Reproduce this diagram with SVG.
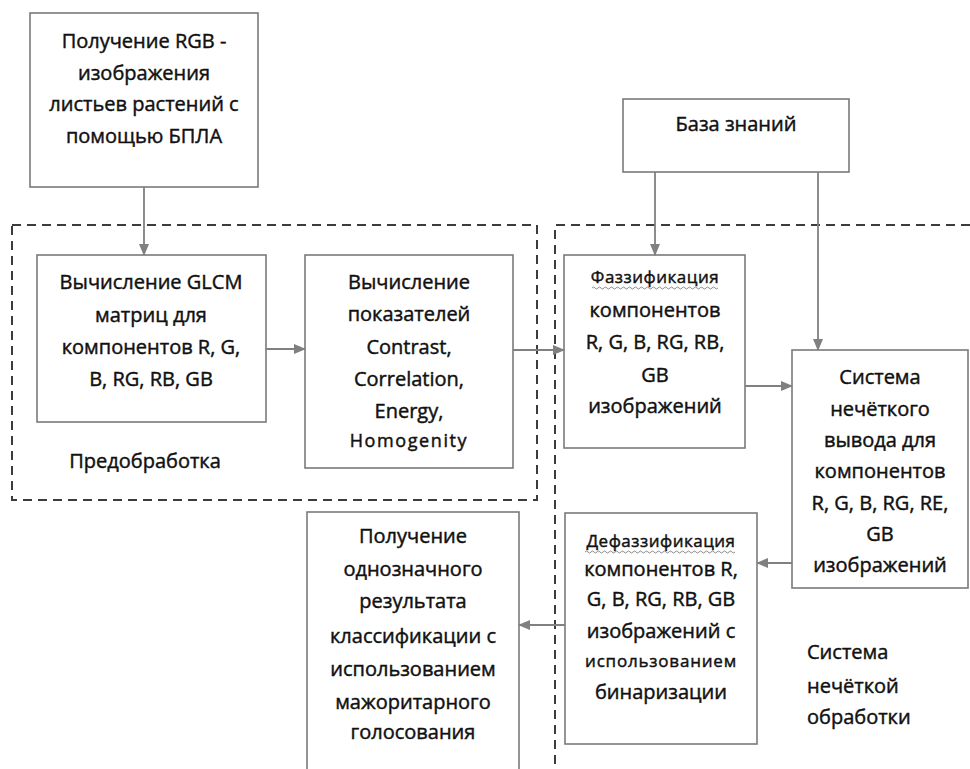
<svg xmlns="http://www.w3.org/2000/svg" width="970" height="769" viewBox="0 0 970 769">
<defs>
<style>
.box{fill:#fff;stroke:#7a7a7a;stroke-width:1.6}
.t{font-family:"Open Sans","Noto Sans","DejaVu Sans",sans-serif;font-size:20px;fill:#111;stroke:#111;stroke-width:0.45;text-anchor:middle}
.s{font-size:17px}
.l{text-anchor:start}
.dash{fill:none;stroke:#3c3c3c;stroke-width:2;stroke-dasharray:9 6}
.con{fill:none;stroke:#808080;stroke-width:1.8}
.sq{fill:none;stroke:#8a8a8a;stroke-width:1}
</style>
<marker id="ah" markerWidth="12" markerHeight="10" refX="11" refY="5" orient="auto" markerUnits="userSpaceOnUse">
<path d="M0,0 L12,5 L0,10 Z" fill="#808080"/>
</marker>
</defs>
<rect width="970" height="769" fill="#fff"/>

<g id="regions">
<path class="dash" d="M12,225 H537 V500 H12 Z"/>
<path class="dash" d="M970,225 H555 V769"/>
</g>

<g id="node-capture">
<rect class="box" x="30" y="13" width="228" height="174"/>
<text class="t" x="144" y="48">Получение RGB -</text>
<text class="t" x="144" y="80">изображения</text>
<text class="t" x="144" y="111">листьев растений с</text>
<text class="t" x="144" y="143">помощью БПЛА</text>
</g>

<g id="node-glcm">
<rect class="box" x="37" y="255" width="229" height="167"/>
<text class="t" x="151" y="289">Вычисление GLCM</text>
<text class="t" x="151" y="322">матриц для</text>
<text class="t" x="151" y="354">компонентов R, G,</text>
<text class="t" x="151" y="386">B, RG, RB, GB</text>
</g>

<g id="label-preprocessing">
<text class="t" x="145" y="468">Предобработка</text>
</g>

<g id="node-indicators">
<rect class="box" x="305" y="255" width="208" height="213"/>
<text class="t" x="409" y="289">Вычисление</text>
<text class="t" x="409" y="321">показателей</text>
<text class="t" x="409" y="354">Contrast,</text>
<text class="t" x="409" y="386">Correlation,</text>
<text class="t" x="409" y="418">Energy,</text>
<text class="t s" x="409" y="447" style="font-size:18px;letter-spacing:1.6px">Homogenity</text>
</g>

<g id="node-knowledge">
<rect class="box" x="623" y="99" width="226" height="73"/>
<text class="t" x="736" y="131">База знаний</text>
</g>

<g id="node-fuzzification">
<rect class="box" x="564" y="255" width="181" height="193"/>
<text class="t s" x="655" y="283" style="letter-spacing:0.5px">Фаззификация</text>
<path class="sq" d="M592,288 q1.5,-2 3,0 t3,0 t3,0 t3,0 t3,0 t3,0 t3,0 t3,0 t3,0 t3,0 t3,0 t3,0 t3,0 t3,0 t3,0 t3,0 t3,0 t3,0 t3,0 t3,0 t3,0 t3,0 t3,0 t3,0 t3,0 t3,0 t3,0 t3,0 t3,0 t3,0 t3,0 t3,0 t3,0 t3,0 t3,0 t3,0 t3,0 t3,0 t3,0 t3,0 t3,0 t3,0"/>
<text class="t" x="655" y="317">компонентов</text>
<text class="t" x="655" y="349">R, G, B, RG, RB,</text>
<text class="t" x="655" y="382">GB</text>
<text class="t" x="655" y="413">изображений</text>
</g>

<g id="node-inference">
<rect class="box" x="792" y="350" width="176" height="238"/>
<text class="t" x="880" y="384">Система</text>
<text class="t" x="880" y="416">нечёткого</text>
<text class="t" x="880" y="447">вывода для</text>
<text class="t" x="880" y="478">компонентов</text>
<text class="t" x="880" y="510">R, G, B, RG, RE,</text>
<text class="t" x="880" y="541">GB</text>
<text class="t" x="880" y="572">изображений</text>
</g>

<g id="node-defuzzification">
<rect class="box" x="565" y="513" width="192" height="231"/>
<text class="t s" x="661" y="547" style="letter-spacing:0.5px">Дефаззификация</text>
<path class="sq" d="M585,552 q1.5,-2 3,0 t3,0 t3,0 t3,0 t3,0 t3,0 t3,0 t3,0 t3,0 t3,0 t3,0 t3,0 t3,0 t3,0 t3,0 t3,0 t3,0 t3,0 t3,0 t3,0 t3,0 t3,0 t3,0 t3,0 t3,0 t3,0 t3,0 t3,0 t3,0 t3,0 t3,0 t3,0 t3,0 t3,0 t3,0 t3,0 t3,0 t3,0 t3,0 t3,0 t3,0 t3,0 t3,0 t3,0 t3,0 t3,0 t3,0 t3,0 t3,0 t3,0"/>
<text class="t" x="661" y="576">компонентов R,</text>
<text class="t" x="661" y="606">G, B, RG, RB, GB</text>
<text class="t" x="661" y="638">изображений с</text>
<text class="t s" x="661" y="667" style="letter-spacing:0.8px">использованием</text>
<text class="t" x="661" y="699">бинаризации</text>
</g>

<g id="node-result">
<rect class="box" x="307" y="512" width="212" height="270"/>
<text class="t" x="413" y="543">Получение</text>
<text class="t" x="413" y="576">однозначного</text>
<text class="t" x="413" y="608">результата</text>
<text class="t" x="413" y="643">классификации с</text>
<text class="t" x="413" y="676">использованием</text>
<text class="t" x="413" y="709">мажоритарного</text>
<text class="t" x="413" y="739">голосования</text>
</g>

<g id="label-fuzzy-processing">
<text class="t l" x="807" y="659">Система</text>
<text class="t l" x="807" y="693">нечёткой</text>
<text class="t l" x="807" y="724">обработки</text>
</g>

<g id="connectors">
<path class="con" d="M144,187 V255" marker-end="url(#ah)"/>
<path class="con" d="M266,349 H305" marker-end="url(#ah)"/>
<path class="con" d="M513,350 H564" marker-end="url(#ah)"/>
<path class="con" d="M655,172 V255" marker-end="url(#ah)"/>
<path class="con" d="M818,172 V350" marker-end="url(#ah)"/>
<path class="con" d="M745,386 H792" marker-end="url(#ah)"/>
<path class="con" d="M792,563 H757" marker-end="url(#ah)"/>
<path class="con" d="M565,625 H519" marker-end="url(#ah)"/>
</g>
</svg>
